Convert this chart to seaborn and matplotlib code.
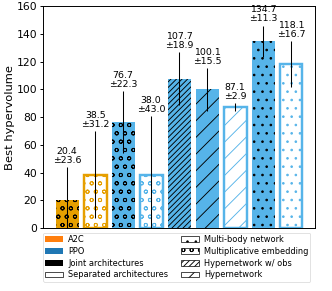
import numpy as np
import pandas as pd
import matplotlib
matplotlib.use('Agg')
import matplotlib.pyplot as plt
import seaborn as sns
from matplotlib.patches import Patch

# ── Data ──────────────────────────────────────────────────────
algos   = ['A2C', 'A2C', 'PPO', 'PPO', 'PPO', 'PPO', 'PPO', 'PPO', 'PPO']
archs   = ['joint', 'separated', 'joint', 'separated', 'joint', 'joint',
           'separated', 'joint', 'separated']
models  = ['mult', 'mult', 'mult', 'mult', 'hyperobs', 'hyper',
           'hyper', 'multibody', 'multibody']
means   = [20.4, 38.5, 76.7, 38.0, 107.7, 100.1, 87.1, 134.7, 118.1]
stds    = [23.6, 31.2, 22.3, 43.0, 18.9, 15.5, 2.9, 11.3, 16.7]

bar_col = {'A2C': '#E69F00', 'PPO': '#56B4E9'}
leg_col = {'A2C': '#ff7f0e', 'PPO': '#1f77b4'}
hatches = {'mult': 'o', 'hyperobs': '///', 'hyper': '/', 'multibody': '.'}

# drawn at low dpi on a big canvas so hatches come out dense like the original
DPI = 50
plt.rcParams['hatch.linewidth'] = 1.3

df = pd.DataFrame({'idx': range(len(means)), 'mean': means, 'std': stds,
                   'algo': algos, 'arch': archs, 'model': models})

fig = plt.figure(figsize=(332 / DPI, 291 / DPI), dpi=DPI)
ax = fig.add_axes([0.13, 0.216, 0.819, 0.763])

sns.barplot(data=df, x='idx', y='mean', ax=ax, width=0.82,
            color='white', errorbar=None)

for p, (_, r) in zip(ax.patches, df.iterrows()):
    c = bar_col[r['algo']]
    p.set_hatch(hatches[r['model']])
    if r['arch'] == 'joint':
        p.set_facecolor(c)
        p.set_edgecolor('black')
        p.set_linewidth(0)
        p._hatch_color = matplotlib.colors.to_rgba('black')
    else:
        p.set_facecolor('white')
        p.set_edgecolor(c)
        p.set_linewidth(3.5)
        p._hatch_color = matplotlib.colors.to_rgba(c)

ax.errorbar(df['idx'], df['mean'], yerr=df['std'], fmt='none',
            ecolor='black', elinewidth=1.5, capsize=0)

for i, (m, s) in enumerate(zip(means, stds)):
    ax.annotate(f'{m:.1f}\n±{s:.1f}', (i, m + s), xytext=(0, 3),
                textcoords='offset points', ha='center', va='bottom',
                fontsize=13.5, linespacing=1.0)

ax.set_ylim(0, 160)
ax.set_xlim(-0.86, 8.86)
ax.set_xticks([])
ax.set_xlabel('')
ax.set_ylabel('Best hypervolume', fontsize=16.5, labelpad=3)
ax.tick_params(axis='y', labelsize=15.5, width=1.4, length=5)
for sp in ax.spines.values():
    sp.set_linewidth(1.4)

handles = [
    Patch(facecolor=leg_col['A2C'], label='A2C'),
    Patch(facecolor=leg_col['PPO'], label='PPO'),
    Patch(facecolor='black', label='Joint architectures'),
    Patch(facecolor='white', edgecolor='black', label='Separated architectures'),
    Patch(facecolor='white', edgecolor='black', hatch='.', label='Multi-body network'),
    Patch(facecolor='white', edgecolor='black', hatch='o', label='Multiplicative embedding'),
    Patch(facecolor='white', edgecolor='black', hatch='///', label='Hypernetwork w/ obs'),
    Patch(facecolor='white', edgecolor='black', hatch='/', label='Hypernetwork'),
]
fig.legend(handles=handles, ncol=2, fontsize=11.8, loc='upper left',
           bbox_to_anchor=(0.13, 0.04, 0.805, 0.16), mode='expand',
           labelspacing=0.35, handlelength=2.2, handleheight=0.7,
           borderpad=0.25, borderaxespad=0.0, handletextpad=0.6)

fig.savefig('out.png', dpi=DPI)
